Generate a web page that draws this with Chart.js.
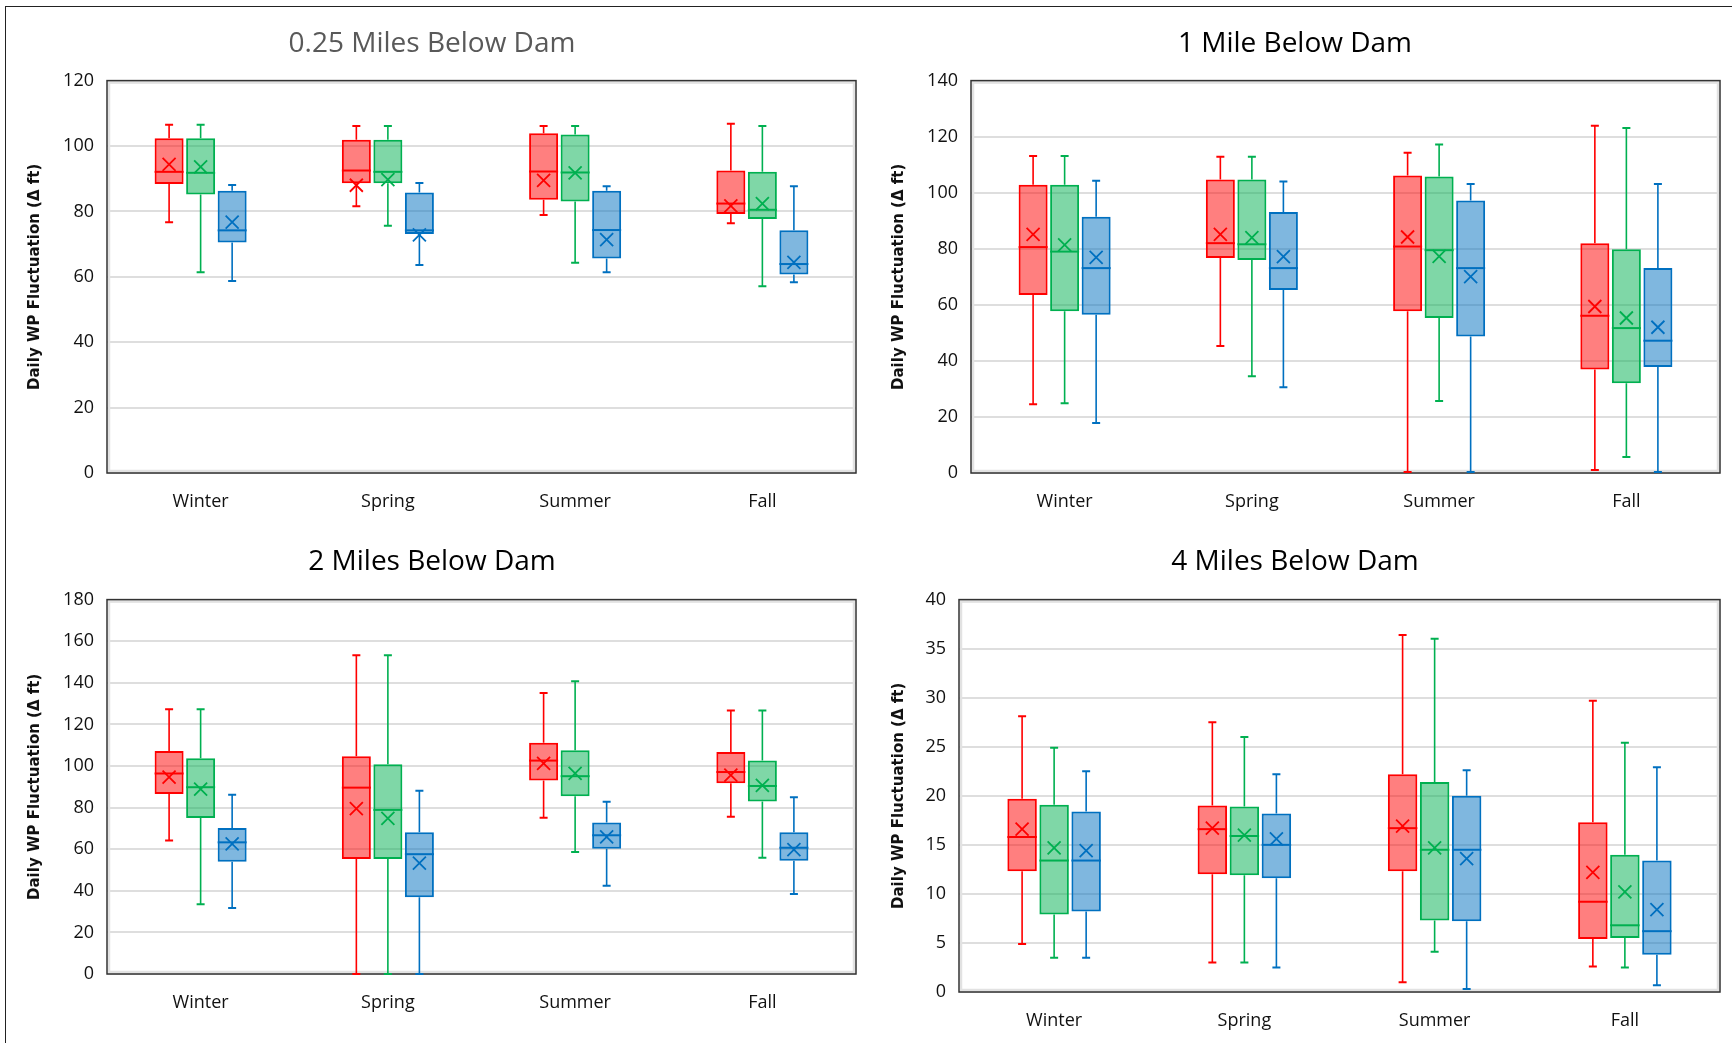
<!DOCTYPE html>
<html>
<head>
<meta charset="utf-8">
<script src="https://cdn.jsdelivr.net/npm/chart.js@4.4.1/dist/chart.umd.min.js"></script>
<style>
  body { margin: 0; background: #fff; width: 1732px; height: 1043px; overflow: hidden; position: relative; }
  .frame { position: absolute; left: 5px; top: 6px; right: 0; bottom: 0; border-top: 1px solid #222; border-left: 1px solid #222; }
  .panel { position: absolute; }
</style>
</head>
<body>
<div class="frame"></div>
<div class="panel" style="left:8px;top:8px"><canvas id="c0" width="858" height="512"></canvas></div>
<div class="panel" style="left:870px;top:8px"><canvas id="c1" width="862" height="512"></canvas></div>
<div class="panel" style="left:8px;top:520px"><canvas id="c2" width="858" height="523"></canvas></div>
<div class="panel" style="left:870px;top:520px"><canvas id="c3" width="862" height="523"></canvas></div>

<script>
const seasons = ['Winter', 'Spring', 'Summer', 'Fall'];
const titles = ['0.25 Miles Below Dam', '1 Mile Below Dam', '2 Miles Below Dam', '4 Miles Below Dam'];
const yMax = [120, 140, 180, 40];
const yStep = [20, 20, 20, 5];

// each row: [min, q1, median, q3, max, mean] for Winter, Spring, Summer, Fall
const quarterRed = [[76.7, 88.4, 92.1, 102.4, 106.5, 94.4], [81.6, 88.6, 92.5, 101.9, 106.1, 88.0], [78.9, 83.6, 92.2, 103.9, 106.1, 89.5], [76.4, 79.2, 82.4, 92.5, 106.8, 81.7]];
const quarterGreen = [[61.4, 85.2, 91.8, 102.4, 106.5, 93.6], [75.6, 88.6, 92.1, 101.9, 106.1, 89.7], [64.3, 83.0, 91.9, 103.5, 106.1, 91.8], [57.1, 77.7, 80.5, 92.1, 106.1, 82.4]];
const quarterBlue = [[58.7, 70.5, 74.2, 86.3, 88.1, 76.7], [63.6, 73.1, 74.2, 85.8, 88.7, 72.8], [61.4, 65.6, 74.3, 86.3, 87.7, 71.4], [58.3, 60.7, 63.9, 74.2, 87.7, 64.4]];

const oneRed = [[24.5, 63.5, 80.6, 102.8, 113.1, 85.1], [45.3, 76.7, 82.0, 104.7, 112.8, 85.1], [0.4, 57.7, 80.8, 106.1, 114.3, 84.2], [1.1, 36.9, 56.1, 82.0, 123.9, 59.4]];
const oneGreen = [[24.9, 57.7, 79.0, 102.8, 113.1, 81.4], [34.5, 76.0, 81.6, 104.7, 112.8, 84.0], [25.7, 55.3, 79.5, 105.8, 117.2, 77.3], [5.7, 32.0, 51.7, 79.8, 123.1, 55.3]];
const oneBlue = [[17.8, 56.5, 73.1, 91.4, 104.3, 76.9], [30.6, 65.3, 73.1, 93.1, 104.0, 77.2], [0.4, 48.7, 73.1, 97.2, 103.1, 70.1], [0.4, 37.8, 47.2, 73.1, 103.1, 52.0]];

const twoRed = [[64.2, 86.5, 96.4, 107.2, 127.3, 94.6], [0, 55.3, 89.6, 104.7, 153.2, 79.5], [75.1, 93.0, 102.6, 111.2, 135.1, 101.3], [75.6, 91.7, 97.1, 106.7, 126.7, 95.6]];
const twoGreen = [[33.5, 75.0, 89.8, 103.7, 127.3, 88.9], [0, 55.3, 78.9, 100.8, 153.2, 74.8], [58.7, 85.5, 95.1, 107.6, 140.7, 96.4], [55.9, 82.9, 90.4, 102.6, 126.7, 90.7]];
const twoBlue = [[31.7, 54.0, 63.3, 70.2, 86.2, 62.6], [0, 36.9, 57.6, 68.1, 88.1, 53.3], [42.4, 60.2, 66.7, 72.8, 82.8, 65.9], [38.5, 54.5, 60.7, 68.1, 85.0, 59.8]];

const fourRed = [[4.9, 12.3, 15.8, 19.7, 28.1, 16.6], [3.0, 12.0, 16.6, 19.0, 27.5, 16.7], [1.0, 12.3, 16.7, 22.2, 36.4, 16.9], [2.6, 5.4, 9.2, 17.3, 29.7, 12.2]];
const fourGreen = [[3.5, 7.9, 13.4, 19.1, 24.9, 14.7], [3.0, 11.9, 15.9, 18.9, 26.0, 16.0], [4.1, 7.3, 14.5, 21.4, 36.0, 14.7], [2.5, 5.5, 6.8, 14.0, 25.4, 10.2]];
const fourBlue = [[3.5, 8.2, 13.4, 18.4, 22.5, 14.4], [2.5, 11.6, 15.0, 18.2, 22.2, 15.6], [0.3, 7.2, 14.5, 20.0, 22.6, 13.6], [0.7, 3.8, 6.2, 13.4, 22.9, 8.4]];

const strokeColors = ['#ff0000', '#00b050', '#0070c0'];
const fillColors = ['rgba(255,0,0,0.5)', 'rgba(0,176,80,0.5)', 'rgba(0,112,192,0.5)'];

// whiskers, median line and mean cross on top of the floating bars
const boxExtras = {
  id: 'boxExtras',
  afterDatasetsDraw(chart) {
    const ctx = chart.ctx;
    const y = chart.scales.y;
    const area = chart.chartArea;

    ctx.save();
    ctx.strokeStyle = '#e2e2e2';
    ctx.lineWidth = 2.5;
    ctx.strokeRect(area.left + 2, area.top + 2, area.width - 4, area.height - 4);
    ctx.strokeStyle = '#333';
    ctx.lineWidth = 1.5;
    ctx.strokeRect(area.left, area.top, area.width, area.height);
    ctx.restore();

    chart.data.datasets.forEach((ds, di) => {
      const meta = chart.getDatasetMeta(di);
      meta.data.forEach((bar, i) => {
        const s = ds.stats[i];
        const x = bar.x;
        ctx.save();
        ctx.strokeStyle = ds.borderColor;
        ctx.lineWidth = 1.6;
        ctx.beginPath();
        ctx.moveTo(x, y.getPixelForValue(s[3]));
        ctx.lineTo(x, y.getPixelForValue(s[4]));
        ctx.moveTo(x, y.getPixelForValue(s[1]));
        ctx.lineTo(x, y.getPixelForValue(s[0]));
        ctx.stroke();
        ctx.lineWidth = 2;
        ctx.beginPath();
        ctx.moveTo(x - 4, y.getPixelForValue(s[4]));
        ctx.lineTo(x + 4, y.getPixelForValue(s[4]));
        ctx.moveTo(x - 4, y.getPixelForValue(s[0]));
        ctx.lineTo(x + 4, y.getPixelForValue(s[0]));
        ctx.stroke();
        const half = bar.width / 2;
        ctx.beginPath();
        ctx.moveTo(x - half, y.getPixelForValue(s[2]));
        ctx.lineTo(x + half, y.getPixelForValue(s[2]));
        ctx.stroke();
        const my = y.getPixelForValue(s[5]);
        ctx.lineWidth = 1.8;
        ctx.beginPath();
        ctx.moveTo(x - 6.5, my - 6.5);
        ctx.lineTo(x + 6.5, my + 6.5);
        ctx.moveTo(x + 6.5, my - 6.5);
        ctx.lineTo(x - 6.5, my + 6.5);
        ctx.stroke();
        ctx.restore();
      });
    });
  }
};

function makePanel(idx, series, dims) {
  const datasets = series.map((rows, k) => ({
    data: rows.map(r => [r[1], r[3]]),
    stats: rows,
    backgroundColor: fillColors[k],
    borderColor: strokeColors[k],
    borderWidth: 2,
    borderSkipped: false,
    categoryPercentage: 0.505,
    barPercentage: 0.92
  }));

  new Chart(document.getElementById('c' + idx), {
    type: 'bar',
    data: { labels: seasons, datasets: datasets },
    plugins: [boxExtras],
    options: {
      responsive: false,
      animation: false,
      layout: { padding: { left: 0, right: dims.right, top: 0, bottom: 0 } },
      plugins: {
        legend: { display: false },
        tooltip: { enabled: false },
        title: {
          display: true,
          text: titles[idx],
          color: idx === 0 ? '#595959' : '#000',
          font: { family: 'Open Sans', size: 28, weight: 'normal', lineHeight: 1.2 },
          padding: { top: dims.titleTop, bottom: dims.titleBottom }
        }
      },
      scales: {
        x: {
          grid: { display: false, drawTicks: false },
          border: { display: false },
          ticks: { color: '#111', padding: 18, font: { family: 'Open Sans', size: 18 } },
          afterFit: scale => { scale.height = dims.xHeight; }
        },
        y: {
          min: 0,
          max: yMax[idx],
          grid: { color: '#dedede', lineWidth: 2, drawTicks: false },
          border: { display: false },
          ticks: { stepSize: yStep[idx], color: '#111', padding: 13, font: { family: 'Open Sans', size: 18 } },
          title: {
            display: true,
            text: 'Daily WP Fluctuation (\u0394 ft)',
            color: '#111',
            font: { family: 'DejaVu Sans', size: 15, weight: 'bold' },
            padding: { top: dims.yTitlePad, bottom: 0 }
          },
          afterFit: scale => { scale.width = dims.yWidth; }
        }
      }
    }
  });
}

makePanel(0, [quarterRed, quarterGreen, quarterBlue], { right: 10, titleTop: 19, titleBottom: 20, xHeight: 47, yWidth: 99, yTitlePad: 18 });
makePanel(1, [oneRed, oneGreen, oneBlue], { right: 12, titleTop: 19, titleBottom: 20, xHeight: 47, yWidth: 101, yTitlePad: 20 });
makePanel(2, [twoRed, twoGreen, twoBlue], { right: 10, titleTop: 25, titleBottom: 21, xHeight: 69, yWidth: 99, yTitlePad: 18 });
makePanel(3, [fourRed, fourGreen, fourBlue], { right: 12, titleTop: 25, titleBottom: 21, xHeight: 51, yWidth: 89, yTitlePad: 20 });
</script>
</body>
</html>
